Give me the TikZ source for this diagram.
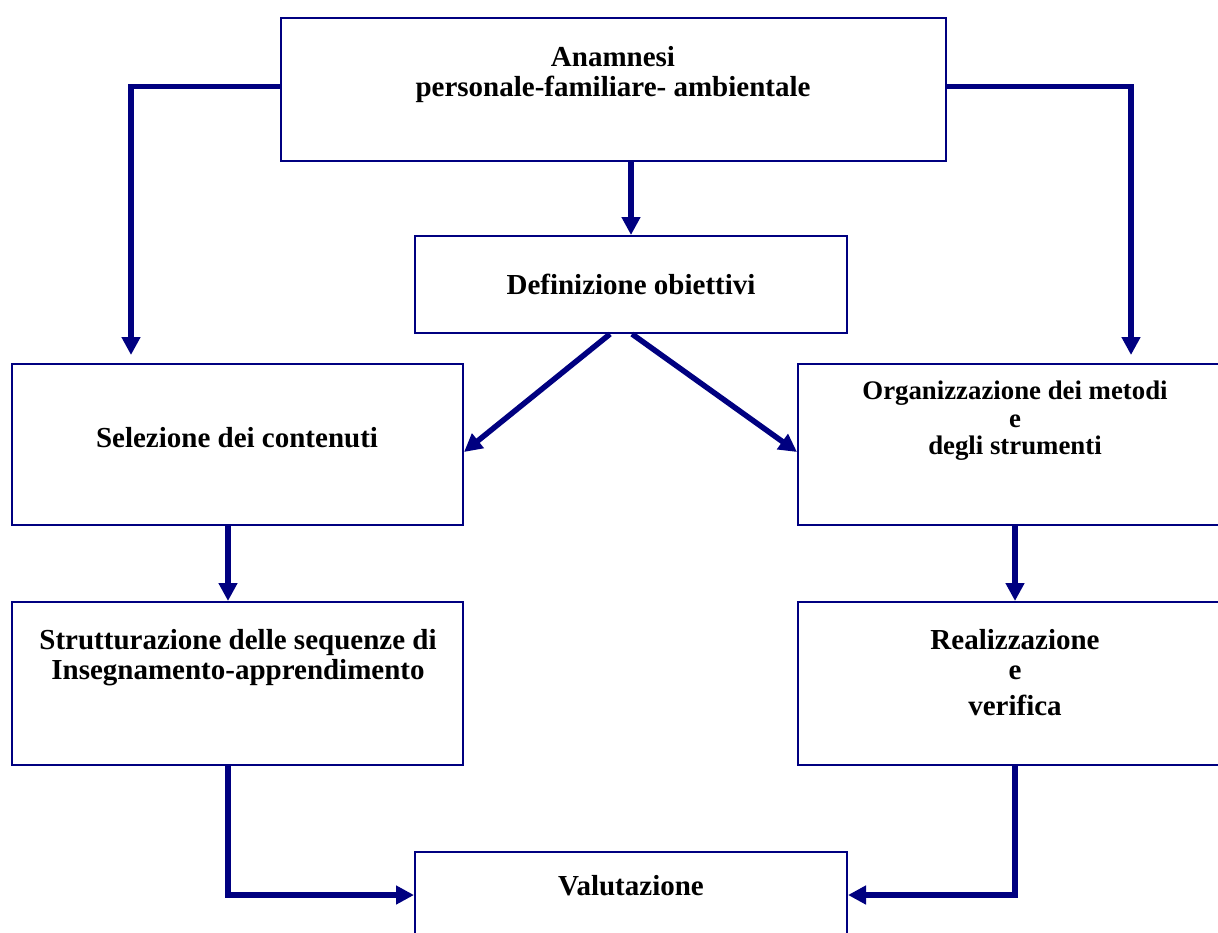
\documentclass[tikz,border=0pt]{standalone}
\usepackage{fontspec}
\setmainfont{Liberation Serif}
\usetikzlibrary{arrows.meta,positioning}
\definecolor{blunotte}{RGB}{0,0,128}
\tikzset{
    scatola/.style={draw=blunotte, line width=1pt, inner sep=0pt},
    freccia/.style={draw=blunotte, line width=2.75pt, -{Triangle[length=9pt,width=9pt]}},
    testo/.style={font=\bfseries\fontsize{14.5}{15}\selectfont, align=center, inner sep=0pt},
    testopiccolo/.style={testo, font=\bfseries\fontsize{13.4}{13.8}\selectfont},
}
\begin{document}
\begin{tikzpicture}[x=0.5pt,y=-0.5pt]
    \clip (0,0) rectangle (1218,932);

      % Riquadri
      \node[scatola, minimum width=332.5pt, minimum height=71.5pt] (anamnesi) at (613.5,89.5) {};
      \node[scatola, minimum width=216pt, minimum height=48.5pt] (obiettivi) at (631,284.5) {};
      \node[scatola, minimum width=225.5pt, minimum height=80.5pt] (selezione) at (237.5,444.5) {};
      \node[scatola, minimum width=217pt, minimum height=80.5pt] (organizzazione) at (1015,444.5) {};
      \node[scatola, minimum width=225.5pt, minimum height=81.5pt] (struttura) at (237.5,683.5) {};
      \node[scatola, minimum width=217pt, minimum height=81.5pt] (realizzazione) at (1015,683.5) {};
      \node[scatola, minimum width=216pt, minimum height=43pt] (valutazione) at (631,895) {};

      % Testi
      \node[testo] (anamnesiTxt) at (613,75) {Anamnesi\\personale-familiare- ambientale};
      \node[testo] (obiettiviTxt) at (631,284) {Definizione obiettivi};
      \node[testo] (selezioneTxt) at (237,438) {Selezione dei contenuti};
      \node[testopiccolo] (organizzazioneTxt) at (1015,421) {Organizzazione dei metodi\\e\\degli strumenti};
      \node[testo] (strutturaTxt) at (238,658) {Strutturazione delle sequenze di\\Insegnamento-apprendimento};
      \node[testo] (realizzazioneTxt) at (1015,673) {Realizzazione\\e\\[3pt]verifica};
      \node[testo] (valutazioneTxt) at (631,886) {Valutazione};

      % Frecce dall'anamnesi
      \draw[freccia] ([yshift=1.5pt]anamnesi.west) -| ([xshift=60pt,yshift=4pt]selezione.north west);
      \draw[freccia] ([yshift=1.5pt]anamnesi.east) -| ([xshift=167pt,yshift=4pt]organizzazione.north west);
      \draw[freccia] (anamnesi.south -| obiettivi.north) -- (obiettivi.north);

      % Frecce dagli obiettivi
      \draw[freccia] ([xshift=-10.5pt]obiettivi.south) -- ([yshift=-3.75pt]selezione.east);
      \draw[freccia] ([xshift=0.5pt]obiettivi.south) -- ([yshift=-3.75pt]organizzazione.west);

      % Colonne
      \draw[freccia] ([xshift=-4.75pt]selezione.south) -- ([xshift=-4.75pt]struttura.north);
      \draw[freccia] (organizzazione.south) -- (realizzazione.north);

      % Verso la valutazione
      \draw[freccia] ([xshift=-4.75pt]struttura.south) |- (valutazione.west);
      \draw[freccia] (realizzazione.south) |- (valutazione.east);

\end{tikzpicture}
\end{document}
